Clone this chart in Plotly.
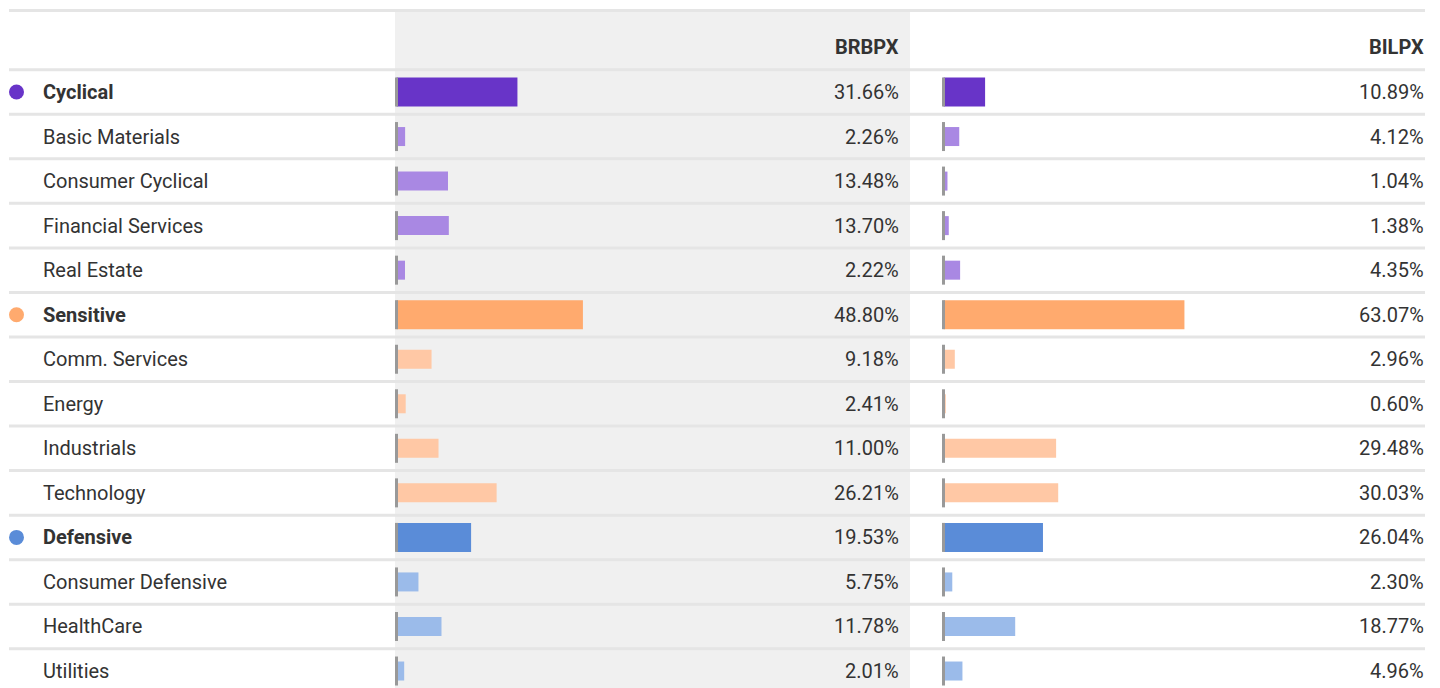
import plotly.graph_objects as go

labels = ["Cyclical", "Basic Materials", "Consumer Cyclical", "Financial Services", "Real Estate",
          "Sensitive", "Comm. Services", "Energy", "Industrials", "Technology",
          "Defensive", "Consumer Defensive", "HealthCare", "Utilities"]
is_group = [True, False, False, False, False, True, False, False, False, False, True, False, False, False]
group_of = [0, 0, 0, 0, 0, 1, 1, 1, 1, 1, 2, 2, 2, 2]
brbpx = [31.66, 2.26, 13.48, 13.70, 2.22, 48.80, 9.18, 2.41, 11.00, 26.21, 19.53, 5.75, 11.78, 2.01]
bilpx = [10.89, 4.12, 1.04, 1.38, 4.35, 63.07, 2.96, 0.60, 29.48, 30.03, 26.04, 2.30, 18.77, 4.96]
funds = ["BRBPX", "BILPX"]

dark_colors = ["#6834C8", "#FFAA6E", "#5A8CD8"]
light_colors = ["#A988E3", "#FFC8A5", "#9BBBEA"]

W, H = 1440, 688
ROW0, STEP = 92.0, 44.54
PXPCT = 3.82
FONT = "Roboto"
TXT = "#333333"

def ypix_to_i(p):
    return (p - ROW0) / STEP

rows = list(range(len(labels)))
bar_w = [29 / STEP if g else 19 / STEP for g in is_group]
colors = [dark_colors[group_of[i]] if is_group[i] else light_colors[group_of[i]] for i in rows]

fig = go.Figure()
for k, vals in enumerate([brbpx, bilpx]):
    fig.add_trace(go.Bar(
        orientation="h", x=vals, y=rows, width=bar_w, base=0,
        marker=dict(color=colors, line=dict(width=0)),
        xaxis="x" if k == 0 else "x2", yaxis="y", hoverinfo="skip", showlegend=False))

grp_rows = [i for i in rows if is_group[i]]
fig.add_trace(go.Scatter(
    x=[16.5] * len(grp_rows), y=grp_rows, mode="markers",
    marker=dict(size=15, color=[dark_colors[group_of[i]] for i in grp_rows]),
    xaxis="x3", yaxis="y", hoverinfo="skip", showlegend=False))

shapes = []
# grey column
shapes.append(dict(type="rect", xref="paper", yref="y", x0=395 / W, x1=910 / W,
                   y0=ypix_to_i(11), y1=ypix_to_i(700), fillcolor="#F0F0F0",
                   line=dict(width=0), layer="below"))
# separators
sep_ys = [ypix_to_i(10.5)] + [i + 0.5 for i in range(-1, len(labels) - 1)]
for yv in sep_ys:
    shapes.append(dict(type="line", xref="paper", yref="y", x0=9 / W, x1=1425 / W,
                       y0=yv, y1=yv, line=dict(color="#E5E5E5", width=3), layer="below"))
# zero markers
hm = 29 / STEP / 2
for xr in ["x", "x2"]:
    for i in rows:
        shapes.append(dict(type="line", xref=xr, yref="y", x0=0, x1=0, y0=i - hm, y1=i + hm,
                           line=dict(color="#999999", width=3), layer="above"))

ann = []
for i in rows:
    t = f"<b>{labels[i]}</b>" if is_group[i] else labels[i]
    ann.append(dict(x=41 / W, xref="paper", y=i, yref="y", text=t, showarrow=False,
                    xanchor="left", yanchor="middle", font=dict(family=FONT, size=20, color=TXT)))
val_x = [901, 1426]
for k, vals in enumerate([brbpx, bilpx]):
    ann.append(dict(x=val_x[k] / W, xref="paper", y=-1, yref="y", text=f"<b>{funds[k]}</b>",
                    showarrow=False, xanchor="right", yanchor="middle",
                    font=dict(family=FONT, size=20, color=TXT)))
    for i in rows:
        ann.append(dict(x=val_x[k] / W, xref="paper", y=i, yref="y", text=f"{vals[i]:.2f}%",
                        showarrow=False, xanchor="right", yanchor="middle",
                        font=dict(family=FONT, size=20, color=TXT)))

ax_common = dict(visible=False, showgrid=False, zeroline=False, fixedrange=True)
fig.update_layout(
    width=W, height=H, margin=dict(l=0, r=0, t=0, b=0),
    paper_bgcolor="white", plot_bgcolor="rgba(0,0,0,0)",
    barmode="overlay", shapes=shapes, annotations=ann,
    xaxis=dict(domain=[395 / W, 910 / W], range=[-1.5 / PXPCT, (910 - 396.5) / PXPCT], anchor="y", **ax_common),
    xaxis2=dict(domain=[942 / W, 1425 / W], range=[-1.5 / PXPCT, (1425 - 943.5) / PXPCT], anchor="y", **ax_common),
    xaxis3=dict(domain=[0, 1], range=[0, W], anchor="y", **ax_common),
    yaxis=dict(domain=[0, 1], range=[ypix_to_i(H), ypix_to_i(0)], **ax_common),
)

fig.write_html("out.html", config={"displayModeBar": False},
               post_script="document.body.style.margin='0';")
